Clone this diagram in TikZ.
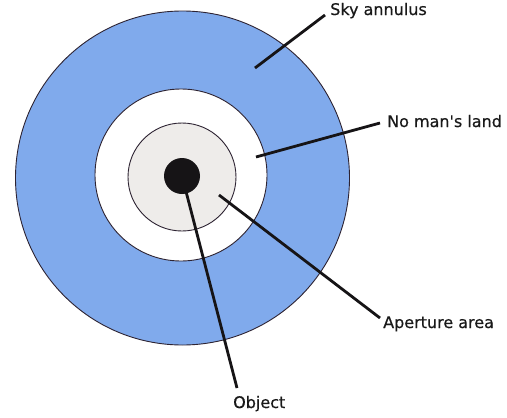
\documentclass[tikz,border=0pt]{standalone}
\usepackage{fontspec}
\setmainfont{DejaVu Sans}
\newfontfamily\lblfont{DejaVu Sans}[FakeBold=0.5]
\definecolor{skyblue}{RGB}{128,170,236}
\definecolor{apgrey}{RGB}{238,236,234}
\definecolor{rimcol}{RGB}{45,35,50}
\definecolor{objcol}{RGB}{22,20,22}
\begin{document}
\begin{tikzpicture}[x=1pt,y=-1pt,
  ring/.style={circle,draw=rimcol,line width=0.9pt,inner sep=0pt},
  leader/.style={line width=2.8pt,draw=objcol},
  lbl/.style={anchor=base west,inner sep=0pt,font=\fontsize{16}{19}\lblfont,text=black!90}]
\useasboundingbox (0,0) rectangle (507,418);
\node[ring,fill=skyblue,minimum size=334pt] (sky) at (182.5,178) {};
\node[ring,fill=white,minimum size=172pt] (nml) at (181,175) {};
\node[ring,fill=apgrey,minimum size=108pt] (ap) at (182,177) {};
\node[circle,fill=objcol,inner sep=0pt,minimum size=36pt] (obj) at (182,176) {};
\coordinate (skyp) at (255,68);
\coordinate (nmlp) at (256,157);
\coordinate (app) at (219,195);
\node[lbl] (skyl) at (330,15) {Sky annulus};
\node[lbl] (nmll) at (387,127) {No man\textquotesingle s land};
\node[lbl] (apl) at (383,328) {Aperture area};
\node[lbl] (objl) at (233,408) {Object};
\draw[leader] (skyp) -- ([xshift=-5pt]skyl.base west);
\draw[leader] (nmlp) -- ([xshift=-7pt,yshift=4pt]nmll.base west);
\draw[leader] (app) -- ([xshift=-3pt,yshift=10pt]apl.base west);
\draw[leader] (obj.center) -- ([xshift=4pt,yshift=20pt]objl.base west);
\end{tikzpicture}
\end{document}
